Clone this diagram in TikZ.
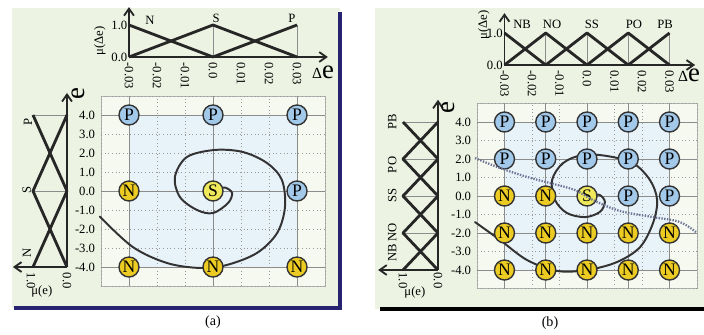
\documentclass[tikz,border=0pt]{standalone}
\usepackage{fontspec}
\setmainfont{Liberation Serif}
\usepackage{tikz}
\usetikzlibrary{arrows.meta}

\definecolor{panelbg}{RGB}{236,243,226}
\definecolor{innerbg}{RGB}{232,242,249}
\definecolor{fuzzyP}{RGB}{163,201,234}
\definecolor{fuzzyN}{RGB}{236,204,34}
\definecolor{fuzzyS}{RGB}{238,232,90}
\definecolor{frameblue}{RGB}{38,36,112}
\definecolor{switchline}{RGB}{110,118,150}

\tikzset{
  mfline/.style={line width=2pt, draw=black!85, line join=round},
  mfaxis/.style={line width=1.3pt, draw=black!85, -{Straight Barb[length=5pt,width=7pt]}},
  peakline/.style={draw=black!45, line width=0.6pt},
  gridminor/.style={draw=black!40, dotted, line width=0.6pt},
  gridmajor/.style={draw=black!45, line width=0.6pt},
  fuzzy/.style={circle, draw=black!80, line width=1pt, minimum size=0.5cm, inner sep=0pt, font=\fontsize{12.5}{12.5}\selectfont},
  setP/.style={fuzzy, fill=fuzzyP},
  setN/.style={fuzzy, fill=fuzzyN},
  setS/.style={fuzzy, fill=fuzzyS},
  ticklab/.style={font=\fontsize{9}{9}\selectfont, inner sep=1pt},
  biglab/.style={font=\fontsize{19}{19}\selectfont, inner sep=0pt},
  spiral/.style={line width=1.4pt, draw=black!80, line cap=round},
  switching/.style={line width=1.6pt, draw=switchline, dash pattern=on 1pt off 1pt},
}

\begin{document}
\begin{tikzpicture}[x=0.025cm, y=-0.025cm]
  \useasboundingbox (0,0) rectangle (704,335);

  % Panel backgrounds and frames
  \fill[panelbg] (12,8) rectangle (340,308);
  \fill[panelbg] (375,8) rectangle (704,309);
  \draw[frameblue, line width=3pt] (14,308) -- (340,308) -- (340,12);
  \draw[black, line width=3pt] (380,309) -- (704,309);

  % (a) Rule grid, 3 x 3
  \begin{scope}[shift={(213,191)}, x=0.7cm, y=0.475cm]
    \filldraw[fill=panelbg!50!white, draw=black!30] (-4,-5) rectangle (4,5);
    \fill[innerbg] (-3,-4) rectangle (3,4);
    \foreach \x in {-4,-2,-1,1,2,4} \draw[gridminor] (\x,-5) -- (\x,5);
    \foreach \y in {-5,...,5} \draw[gridminor] (-4,\y) -- (4,\y);
    \foreach \x in {-3,0,3} \draw[gridmajor] (\x,-5) -- (\x,5);
    \foreach \y in {-4,0,4} \draw[gridmajor] (-4,\y) -- (4,\y);
    \foreach \y/\t [count=\i] in {4/4.0,3/3.0,2/2.0,1/1.0,0/0.0,-1/-1.0,-2/-2.0,-3/-3.0,-4/-4.0}
      \node[ticklab, anchor=east] (a-etick\i) at ([xshift=-3pt]-4,\y) {\t};
    \draw[spiral] plot[smooth, tension=0.55] coordinates {(-4.04,-1.35) (-2.86,-2.95) (-1.64,-3.79)
      (-0.46,-4.05) (0.5,-3.89) (1.57,-3.26) (2.29,-2.21) (2.57,-0.84) (2.46,0.58) (1.93,1.47)
      (1.07,2.05) (0.07,2.16) (-0.93,1.79) (-1.36,0.74) (-1.18,-0.32) (-0.57,-1.0) (0,-1.16)
      (0.54,-0.63) (0.68,-0.1) (0.43,0.18) (0.2,0.08)};
    \foreach \lab [count=\c] in {P,P,P} \node[set\lab] (a-r1-c\c) at (3*\c-6,4) {\lab};
    \foreach \lab [count=\c] in {N,S,P} \node[set\lab] (a-r2-c\c) at (3*\c-6,0) {\lab};
    \foreach \lab [count=\c] in {N,N,N} \node[set\lab] (a-r3-c\c) at (3*\c-6,-4) {\lab};
  \end{scope}

  % (a) Membership of the error change
  \begin{scope}[shift={(213,57)}, x=0.7cm, y=0.8cm]
    \draw[peakline] (0,0) -- (0,1) (3,0) -- (3,1);
    \draw[mfline] (-3,1) -- (0,0);
    \draw[mfline] (-3,0) -- (0,1) -- (3,0);
    \draw[mfline] (0,0) -- (3,1);
    \draw[mfaxis] (-3,0) -- (-3,1.56);
    \draw[mfaxis] (-3,0) -- (4.1,0);
    \foreach \x/\t [count=\i] in {-3/-0.03,-2/-0.02,-1/-0.01,0/0.0,1/0.01,2/0.02,3/0.03}
      \node[ticklab, rotate=-90, anchor=west] (a-dtick\i) at (\x,-0.12) {\t};
    \node[ticklab, anchor=east] (a-muone) at (-3,1) {1.0};
    \node[ticklab, anchor=east] (a-muzero) at (-3,0) {0.0};
    \node[ticklab] (a-topN) at (-2.25,1.16) {N};
    \node[ticklab] (a-topS) at (0.11,1.22) {S};
    \node[ticklab] (a-topP) at (2.82,1.22) {P};
    \node[ticklab, rotate=90] (a-muDe) at (-4.04,0.5) {μ(Δe)};
  \end{scope}
  \node[inner sep=0pt] (a-De) at (323,72) {{\fontsize{11}{11}\selectfont Δ}{\fontsize{19}{19}\selectfont e}};

  % (a) Membership of the error
  \begin{scope}[shift={(67,191)}, x=0.85cm, y=0.475cm]
    \draw[peakline] (-1,0) -- (0,0) (-1,4) -- (0,4);
    \draw[mfline] (-1,-4) -- (0,0);
    \draw[mfline] (0,-4) -- (-1,0) -- (0,4);
    \draw[mfline] (0,0) -- (-1,4);
    \draw[mfaxis] (0,-4) -- (0,5.16);
    \draw[mfaxis] (0,-4) -- (-1.59,-4);
    \node[ticklab, rotate=90] (a-leftP) at (-1.15,3.63) {P};
    \node[ticklab, rotate=90] (a-leftS) at (-1.18,0.05) {S};
    \node[ticklab, rotate=90] (a-leftN) at (-1.18,-3.26) {N};
    \node[ticklab, rotate=-90, anchor=west] (a-emuone) at (-1.06,-4.21) {1.0};
    \node[ticklab, rotate=-90, anchor=west] (a-emuzero) at (0,-4.21) {0.0};
    \node[ticklab] (a-mue) at (-0.74,-5.3) {μ(e)};
  \end{scope}
  \node[biglab, rotate=90] (a-e) at (78,94) {e};
  \node[font=\fontsize{10}{10}\selectfont] (a-cap) at (213,322) {(a)};

  % (b) Rule grid, 5 x 5
  \begin{scope}[shift={(587,196)}, x=0.6875cm, y=0.4625cm]
    \filldraw[fill=panelbg!50!white, draw=black!30] (-4,-5) rectangle (4,5);
    \fill[innerbg] (-3,-4) rectangle (3,4);
    \foreach \x in {-4,-2,-1,1,2,4} \draw[gridminor] (\x,-5) -- (\x,5);
    \foreach \y in {-5,...,5} \draw[gridminor] (-4,\y) -- (4,\y);
    \foreach \x in {-3,-1.5,0,1.5,3} \draw[gridmajor] (\x,-5) -- (\x,5);
    \foreach \y in {-4,-2,0,2,4} \draw[gridmajor] (-4,\y) -- (4,\y);
    \foreach \y/\t [count=\i] in {4/4.0,3/3.0,2/2.0,1/1.0,0/0.0,-1/-1.0,-2/-2.0,-3/-3.0,-4/-4.0}
      \node[ticklab, anchor=east] (b-etick\i) at ([xshift=-3pt]-4,\y) {\t};
    \draw[spiral] plot[smooth, tension=0.55] coordinates {(-4.07,-1.41) (-3.16,-2.38) (-2.18,-3.46)
      (-1.09,-4.05) (0,-4.0) (1.09,-3.57) (1.93,-2.76) (2.4,-1.46) (2.55,-0.22) (2.29,0.86)
      (1.67,1.78) (0.73,2.16) (-0.15,2.22) (-0.87,1.78) (-1.27,0.86) (-1.16,-0.22) (-0.73,-0.92)
      (-0.07,-1.14) (0.47,-0.86) (0.65,-0.32) (0.47,0.05) (0.22,0.05)};
    \foreach \lab [count=\c] in {P,P,P,P,P} \node[setP] (b-r1-c\c) at (1.5*\c-4.5,4) {\lab};
    \foreach \lab [count=\c] in {P,P,P,P,P} \node[setP] (b-r2-c\c) at (1.5*\c-4.5,2) {\lab};
    \foreach \lab [count=\c] in {N,N,S,P,P} \node[set\lab] (b-r3-c\c) at (1.5*\c-4.5,0) {\lab};
    \foreach \lab [count=\c] in {N,N,N,N,N} \node[setN] (b-r4-c\c) at (1.5*\c-4.5,-2) {\lab};
    \foreach \lab [count=\c] in {N,N,N,N,N} \node[setN] (b-r5-c\c) at (1.5*\c-4.5,-4) {\lab};
    \draw[switching] plot[smooth, tension=0.6] coordinates {(-4.07,2.05) (-3.16,1.51) (-2.18,1.03)
      (-1.35,0.7) (-0.44,0.32) (0.22,-0.22) (1.2,-0.81) (2.4,-1.14) (3.38,-1.41) (4.0,-2.0)};
  \end{scope}

  % (b) Membership of the error change
  \begin{scope}[shift={(587,65)}, x=0.6875cm, y=0.8cm]
    \foreach \x in {-1.5,0,1.5,3} \draw[peakline] (\x,0) -- (\x,1);
    \draw[mfline] (-3,1) -- (-1.5,0);
    \draw[mfline] (-3,0) -- (-1.5,1) -- (0,0);
    \draw[mfline] (-1.5,0) -- (0,1) -- (1.5,0);
    \draw[mfline] (0,0) -- (1.5,1) -- (3,0);
    \draw[mfline] (1.5,0) -- (3,1);
    \draw[mfaxis] (-3,0) -- (-3,1.62);
    \draw[mfaxis] (-3,0) -- (3.93,0);
    \foreach \x/\t [count=\i] in {-3/-0.03,-2/-0.02,-1/-0.01,0/0.0,1/0.01,2/0.02,3/0.03}
      \node[ticklab, rotate=-90, anchor=west] (b-dtick\i) at (\x,-0.12) {\t};
    \node[ticklab, anchor=east] (b-muone) at (-3,1) {1.0};
    \node[ticklab, anchor=east] (b-muzero) at (-3,0) {0.0};
    \foreach \x/\t in {-2.36/NB,-1.27/NO,0.18/SS,1.71/PO,2.84/PB}
      \node[ticklab] (b-top\t) at (\x,1.28) {\t};
    \node[ticklab, rotate=90] (b-muDe) at (-3.75,1.25) {μ(Δe)};
  \end{scope}
  \node[inner sep=0pt] (b-De) at (689,75) {{\fontsize{11}{11}\selectfont Δ}{\fontsize{19}{19}\selectfont e}};

  % (b) Membership of the error
  \begin{scope}[shift={(438,196)}, x=0.875cm, y=0.4625cm]
    \foreach \y in {-2,0,2,4} \draw[peakline] (-1,\y) -- (0,\y);
    \draw[mfline] (-1,-4) -- (0,-2);
    \draw[mfline] (0,-4) -- (-1,-2) -- (0,0);
    \draw[mfline] (0,-2) -- (-1,0) -- (0,2);
    \draw[mfline] (0,0) -- (-1,2) -- (0,4);
    \draw[mfline] (0,2) -- (-1,4);
    \draw[mfaxis] (0,-4) -- (0,5.2);
    \draw[mfaxis] (0,-4) -- (-1.71,-4);
    \foreach \y/\t in {4.0/PB,1.68/PO,0.05/SS,-1.95/NO,-3.08/NB}
      \node[ticklab, rotate=90] (b-left\t) at (-1.31,\y) {\t};
    \node[ticklab, rotate=-90, anchor=west] (b-emuone) at (-1,-4.05) {1.0};
    \node[ticklab, rotate=-90, anchor=west] (b-emuzero) at (0,-4.05) {0.0};
    \node[ticklab] (b-mue) at (-0.66,-5.19) {μ(e)};
  \end{scope}
  \node[biglab, rotate=90] (b-e) at (448,108) {e};
  \node[font=\fontsize{10}{10}\selectfont] (b-cap) at (550,323) {(b)};
\end{tikzpicture}
\end{document}
